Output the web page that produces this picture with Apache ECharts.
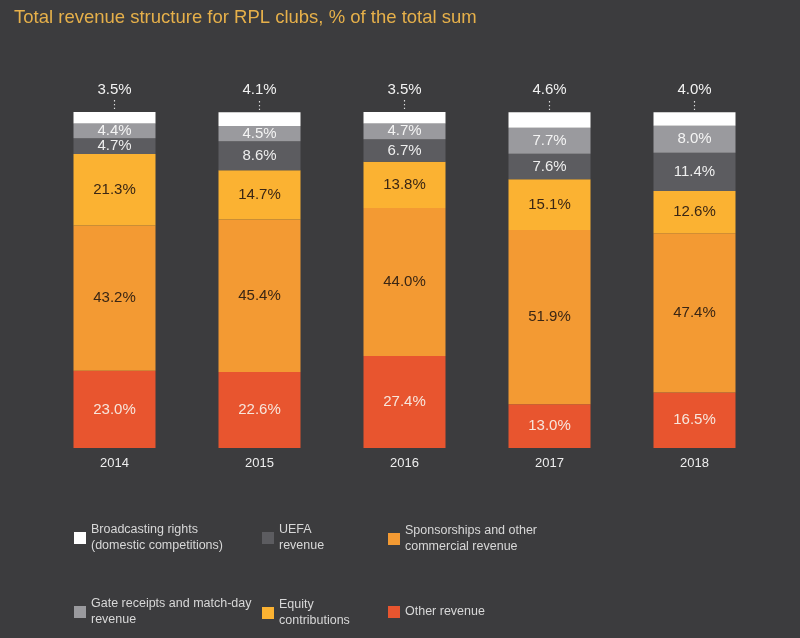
<!DOCTYPE html>
<html>
<head>
<meta charset="utf-8">
<script src="https://cdn.jsdelivr.net/npm/echarts@6/dist/echarts.min.js"></script>
<style>
html,body{margin:0;padding:0;background:#3c3c3e;}
#c{width:800px;height:638px;}
</style>
</head>
<body>
<div id="c"></div>
<script>
const years = ['2014','2015','2016','2017','2018'];
const otherRevenue = [23.0, 22.6, 27.4, 13.0, 16.5];
const sponsorships = [43.2, 45.4, 44.0, 51.9, 47.4];
const equity = [21.3, 14.7, 13.8, 15.1, 12.6];
const uefa = [4.7, 8.6, 6.7, 7.6, 11.4];
const gateReceipts = [4.4, 4.5, 4.7, 7.7, 8.0];
const broadcasting = [3.5, 4.1, 3.5, 4.6, 4.0];

const names = {
  broad: 'Broadcasting rights (domestic competitions)',
  uefa: 'UEFA revenue',
  spons: 'Sponsorships and other commercial revenue',
  gate: 'Gate receipts and match-day revenue',
  equity: 'Equity contributions',
  other: 'Other revenue'
};
const legendText = {};
legendText[names.broad] = 'Broadcasting rights\n(domestic competitions)';
legendText[names.uefa] = 'UEFA\nrevenue';
legendText[names.spons] = 'Sponsorships and other\ncommercial revenue';
legendText[names.gate] = 'Gate receipts and match-day\nrevenue';
legendText[names.equity] = 'Equity\ncontributions';
legendText[names.other] = 'Other revenue';

const FONT = '"Liberation Sans", Arial, Helvetica, sans-serif';
const fmt = p => p.value.toFixed(1) + '%';

function seg(name, data, color, labelColor) {
  return {
    name: name, type: 'bar', stack: 's', data: data, barWidth: 82,
    itemStyle: {color: color},
    label: {show: true, position: 'inside', formatter: fmt, color: labelColor,
      fontSize: 15, fontFamily: FONT},
    emphasis: {disabled: true}
  };
}

function leg(name, left, top) {
  return {
    data: [name], left: left, top: top, padding: 0, orient: 'vertical',
    itemWidth: 12, itemHeight: 12, icon: 'rect', itemGap: 0,
    selectedMode: false,
    formatter: n => legendText[n],
    textStyle: {color: '#d8d8d8', fontSize: 12.5, lineHeight: 16, fontFamily: FONT}
  };
}

const chart = echarts.init(document.getElementById('c'));
chart.setOption({
  backgroundColor: '#3c3c3e',
  animation: false,
  title: {text: 'Total revenue structure for RPL clubs, % of the total sum',
    left: 9, top: 3,
    textStyle: {color: '#e6b04a', fontSize: 18.5, fontWeight: 'normal', fontFamily: FONT}},
  grid: {left: 42, right: 33, top: 112, bottom: 190},
  xAxis: {type: 'category', data: years,
    axisLine: {show: false}, axisTick: {show: false},
    axisLabel: {color: '#eeeeee', fontSize: 13, margin: 9, fontFamily: FONT}},
  yAxis: {type: 'value', min: 0, max: 100, show: false},
  legend: [
    leg(names.broad, 74, 522),
    leg(names.uefa, 262, 522),
    leg(names.spons, 388, 523),
    leg(names.gate, 74, 596),
    leg(names.equity, 262, 597),
    leg(names.other, 388, 604)
  ],
  series: [
    seg(names.other, otherRevenue, '#e8552f', '#f7e6dc'),
    seg(names.spons, sponsorships, '#f39a33', '#3a2614'),
    seg(names.equity, equity, '#fbb232', '#3a2614'),
    seg(names.uefa, uefa, '#5c5c60', '#eeeeee'),
    seg(names.gate, gateReceipts, '#9a9a9e', '#f4f4f4'),
    {
      name: names.broad, type: 'bar', stack: 's', data: broadcasting, barWidth: 82,
      itemStyle: {color: '#ffffff'},
      label: {show: true, position: 'top', distance: 1,
        formatter: p => '{v|' + p.value.toFixed(1) + '%}\n{d|⋮}',
        rich: {
          v: {color: '#f2f2f2', fontSize: 15, fontFamily: FONT, lineHeight: 20, align: 'center'},
          d: {color: '#dddddd', fontSize: 11, fontFamily: 'DejaVu Sans', lineHeight: 11, align: 'center'}
        }},
      emphasis: {disabled: true}
    }
  ]
});
</script>
</body>
</html>
